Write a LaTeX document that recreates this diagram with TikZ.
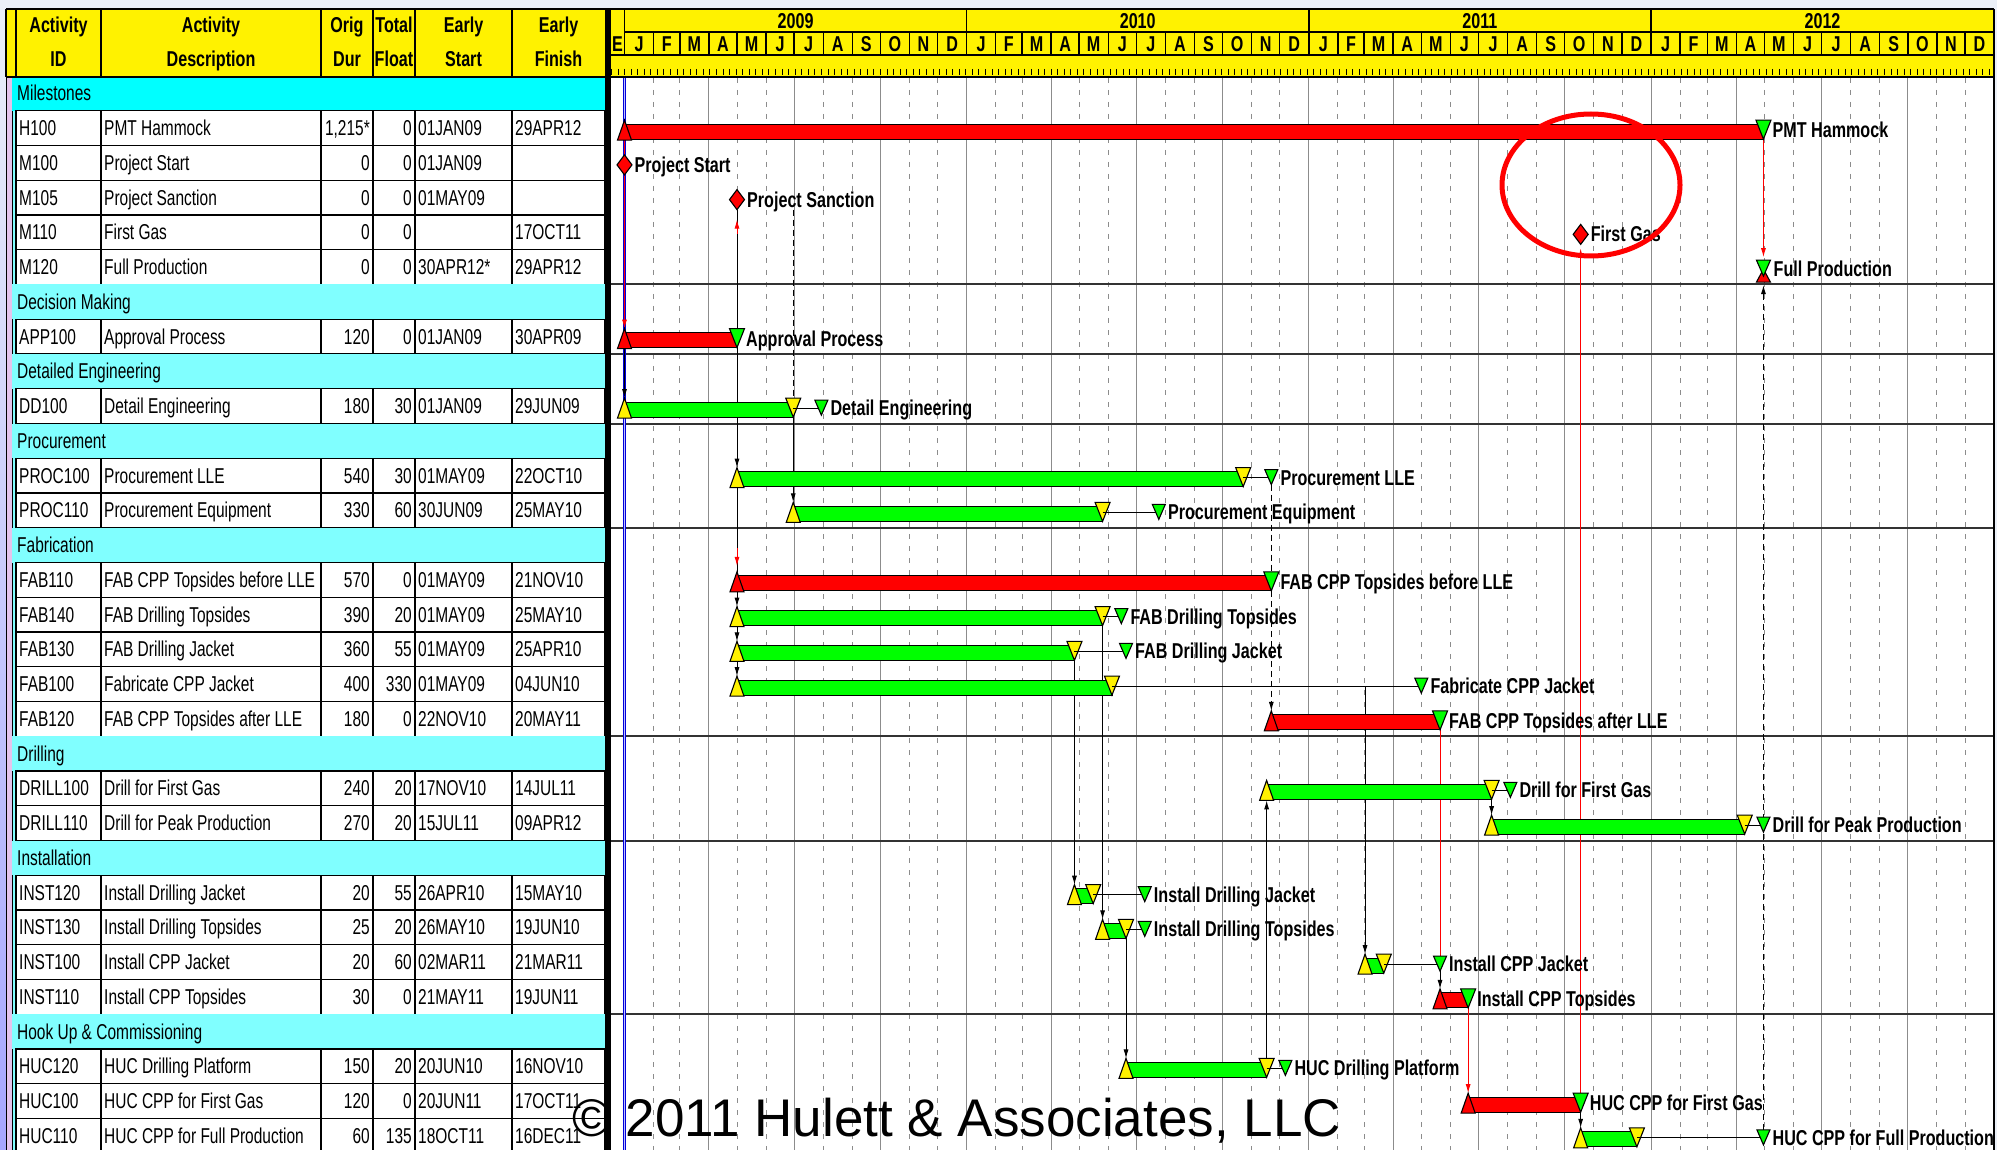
\documentclass[tikz,border=0pt]{standalone}
\usepackage{fontspec}
\setmainfont{Liberation Sans}
\newfontfamily\tabfont[FakeStretch=0.72]{Liberation Sans}
\newfontfamily\lblfont[FakeStretch=0.75]{Liberation Sans}
\usetikzlibrary{arrows.meta,calc}
\definecolor{bandcyan}{HTML}{80FFFF}
\definecolor{milecyan}{HTML}{00FFFF}
\definecolor{pagebg}{HTML}{EBF0F8}
\definecolor{stripbg}{HTML}{E4C4EC}
\definecolor{gridgray}{HTML}{8C8C8C}
\definecolor{sepgray}{HTML}{333333}
\pgfdeclarelayer{bars}
\pgfdeclarelayer{top}
\pgfsetlayers{main,bars,top}

\newcommand\TabRow[7]{%
  \pgfmathsetmacro\tRt{76+34.75*#1}%
  \pgfmathsetmacro\tRb{\tRt+34.75}%
  \pgfmathsetmacro\tRbl{\tRt+17.375+7.5}%
  \fill[white] (16,\tRt) rectangle (605,\tRb);
  \draw[cellline] (16,\tRt) rectangle (605,\tRb);
  \foreach \cx in {101,321,373,415,512}{\draw[cellline] (\cx,\tRt) -- (\cx,\tRb);}
  \node[tabtxt,anchor=base west] (tid#1) at (19,\tRbl) {#2};
  \node[tabtxt,anchor=base west] (tds#1) at (104,\tRbl) {#3};
  \node[tabtxt,anchor=base east] (tdu#1) at (370,\tRbl) {#4};
  \node[tabtxt,anchor=base east] (tfl#1) at (412,\tRbl) {#5};
  \node[tabtxt,anchor=base west] (tes#1) at (418,\tRbl) {#6};
  \node[tabtxt,anchor=base west] (tef#1) at (515,\tRbl) {#7};
}
\newcommand\TabBand[3]{%
  \pgfmathsetmacro\tRt{76+34.75*#1}%
  \pgfmathsetmacro\tRb{\tRt+34.75}%
  \pgfmathsetmacro\tRbl{\tRt+17.375+7.5}%
  \fill[#3] (12,\tRt) rectangle (605,\tRb);
  \node[tabtxt,anchor=base west] (band#1) at (17,\tRbl) {#2};
  \draw[sepline] (611,\tRt) -- (1994,\tRt);
}
% name,row,startday,endday,latefinishday,critical,label
\newcommand\GBar[7]{%
  \pgfmathsetmacro\gC{93.375+34.75*#2}%
  \pgfmathsetmacro\gS{624.5+0.9374*#3}%
  \pgfmathsetmacro\gE{624.5+0.9374*#4}%
  \pgfmathsetmacro\gL{624.5+0.9374*#5}%
  \ifnum#6=1 \def\gBF{red}\def\gSF{red}\def\gEF{green}\else\def\gBF{green}\def\gSF{yellow}\def\gEF{yellow}\fi
  \coordinate (#1-st) at ({\gS},{\gC-8});
  \coordinate (#1-sb) at ({\gS},{\gC+12});
  \coordinate (#1-et) at ({\gE},{\gC-8});
  \coordinate (#1-eb) at ({\gE},{\gC+11});
  \coordinate (#1-c) at ({\gE},{\gC+2});
  \ifnum#6=1
    \coordinate (#1-lft) at ({\gE},{\gC-8});
    \coordinate (#1-lfb) at ({\gE},{\gC+11});
  \else
    \coordinate (#1-lft) at ({\gL},{\gC-6});
    \coordinate (#1-lfb) at ({\gL},{\gC+9});
  \fi
  \begin{pgfonlayer}{bars}
    \filldraw[barline, fill=\gBF] ({\gS},{\gC-4}) rectangle ({\gE},{\gC+11});
    \filldraw[barline, fill=\gSF] ({\gS},{\gC-8}) -- ({\gS+7},{\gC+12}) -- ({\gS-7},{\gC+12}) -- cycle;
    \filldraw[barline, fill=\gEF] ({\gE-7.5},{\gC-8}) -- ({\gE+7.5},{\gC-8}) -- ({\gE},{\gC+11}) -- cycle;
    \ifnum#6=1
      \node[lbl] (#1-lbl) at ({\gE+9},{\gC+9.5}) {#7};
    \else
      \draw[conn] (#1-c) -- ({\gL},{\gC+2});
      \filldraw[barline, fill=green] ({\gL-6.5},{\gC-6}) -- ({\gL+6.5},{\gC-6}) -- ({\gL},{\gC+9}) -- cycle;
      \node[lbl] (#1-lbl) at ({\gL+9},{\gC+9.5}) {#7};
    \fi
  \end{pgfonlayer}
}
% name,row,day,label
\newcommand\GMile[4]{%
  \pgfmathsetmacro\gC{93.375+34.75*#2}%
  \pgfmathsetmacro\gS{624.5+0.9374*#3}%
  \coordinate (#1-t) at ({\gS},{\gC-8});
  \coordinate (#1-b) at ({\gS},{\gC+12});
  \begin{pgfonlayer}{bars}
    \filldraw[barline, fill=red] ({\gS},{\gC-8}) -- ({\gS+7.5},{\gC+2}) -- ({\gS},{\gC+12}) -- ({\gS-7.5},{\gC+2}) -- cycle;
    \node[lbl] (#1-lbl) at ({\gS+10},{\gC+9.5}) {#4};
  \end{pgfonlayer}
}

\begin{document}
\begin{tikzpicture}[x=1pt,y=-1pt,
  cellline/.style={line width=1.4pt,draw=black},
  sepline/.style={line width=2pt,draw=sepgray},
  tabtxt/.style={font=\tabfont\fontsize{21.5}{23}\selectfont, inner sep=0pt},
  hdrtxt/.style={font=\lblfont\bfseries\fontsize{21.5}{23}\selectfont, inner sep=0pt},
  lbl/.style={font=\lblfont\bfseries\fontsize{21.5}{23}\selectfont, inner sep=0pt, anchor=base west},
  conn/.style={line width=0.9pt, draw=black},
  rconn/.style={line width=0.9pt, draw=red},
  cdash/.style={dash pattern=on 6pt off 4pt},
  arr/.style={-{Latex[length=9pt,width=5pt]}},
  barline/.style={line width=1.1pt, draw=black},
  gridsolid/.style={draw=gridgray, line width=0.8pt},
  griddashed/.style={draw=gridgray, line width=0.8pt, dash pattern=on 5pt off 7pt},
]
\useasboundingbox (0,0) rectangle (1997,1150);
% page background
\fill[pagebg] (0,0) rectangle (1997,1150);
\shade[top color=pagebg, bottom color=blue!35!white] (0,0) rectangle (6,1150);
% gantt area
\fill[white] (611,77) rectangle (1994,1150);
% month grid lines
\foreach \a [count=\m from 0] in {0,31,59,90,120,151,181,212,243,273,304,334,365,396,424,455,485,516,546,577,608,638,669,699,730,761,789,820,850,881,911,942,973,1003,1034,1064,1095,1126,1155,1186,1216,1247,1277,1308,1339,1369,1400,1430}{
  \pgfmathsetmacro\xa{624.5+0.9374*\a}
  \pgfmathtruncatemacro\q{mod(\m,3)}
  \ifnum\m>0
    \ifnum\q=0
      \draw[gridsolid] (\xa,78) -- (\xa,1150);
    \else
      \draw[griddashed] (\xa,78) -- (\xa,1150);
    \fi
  \fi
}
% table background and left strip
\fill[bandcyan] (12,77) rectangle (605,1150);
\fill[stripbg] (6,77) rectangle (12,1150);
\draw[line width=1pt] (6,77) -- (6,1150);
\draw[line width=1pt] (12,77) -- (12,1150);

\TabBand{0}{Milestones}{milecyan}
\TabRow{1}{H100}{PMT Hammock}{1,215*}{0}{01JAN09}{29APR12}
\TabRow{2}{M100}{Project Start}{0}{0}{01JAN09}{}
\TabRow{3}{M105}{Project Sanction}{0}{0}{01MAY09}{}
\TabRow{4}{M110}{First Gas}{0}{0}{}{17OCT11}
\TabRow{5}{M120}{Full Production}{0}{0}{30APR12*}{29APR12}
\TabBand{6}{Decision Making}{bandcyan}
\TabRow{7}{APP100}{Approval Process}{120}{0}{01JAN09}{30APR09}
\TabBand{8}{Detailed Engineering}{bandcyan}
\TabRow{9}{DD100}{Detail Engineering}{180}{30}{01JAN09}{29JUN09}
\TabBand{10}{Procurement}{bandcyan}
\TabRow{11}{PROC100}{Procurement LLE}{540}{30}{01MAY09}{22OCT10}
\TabRow{12}{PROC110}{Procurement Equipment}{330}{60}{30JUN09}{25MAY10}
\TabBand{13}{Fabrication}{bandcyan}
\TabRow{14}{FAB110}{FAB CPP Topsides before LLE}{570}{0}{01MAY09}{21NOV10}
\TabRow{15}{FAB140}{FAB Drilling Topsides}{390}{20}{01MAY09}{25MAY10}
\TabRow{16}{FAB130}{FAB Drilling Jacket}{360}{55}{01MAY09}{25APR10}
\TabRow{17}{FAB100}{Fabricate CPP Jacket}{400}{330}{01MAY09}{04JUN10}
\TabRow{18}{FAB120}{FAB CPP Topsides after LLE}{180}{0}{22NOV10}{20MAY11}
\TabBand{19}{Drilling}{bandcyan}
\TabRow{20}{DRILL100}{Drill for First Gas}{240}{20}{17NOV10}{14JUL11}
\TabRow{21}{DRILL110}{Drill for Peak Production}{270}{20}{15JUL11}{09APR12}
\TabBand{22}{Installation}{bandcyan}
\TabRow{23}{INST120}{Install Drilling Jacket}{20}{55}{26APR10}{15MAY10}
\TabRow{24}{INST130}{Install Drilling Topsides}{25}{20}{26MAY10}{19JUN10}
\TabRow{25}{INST100}{Install CPP Jacket}{20}{60}{02MAR11}{21MAR11}
\TabRow{26}{INST110}{Install CPP Topsides}{30}{0}{21MAY11}{19JUN11}
\TabBand{27}{Hook Up \& Commissioning}{bandcyan}
\TabRow{28}{HUC120}{HUC Drilling Platform}{150}{20}{20JUN10}{16NOV10}
\TabRow{29}{HUC100}{HUC CPP for First Gas}{120}{0}{20JUN11}{17OCT11}
\TabRow{30}{HUC110}{HUC CPP for Full Production}{60}{135}{18OCT11}{16DEC11}

% ---- table header
\fill[yellow] (6,9) rectangle (605,77);
\foreach \cx in {6,16,101,321,373,415,512}{\draw[cellline] (\cx,9) -- (\cx,77);}
\node[hdrtxt,anchor=base] (h1a) at (58.5,32.5) {Activity};
\node[hdrtxt,anchor=base] (h1b) at (58.5,66.5) {ID};
\node[hdrtxt,anchor=base] (h2a) at (211,32.5) {Activity};
\node[hdrtxt,anchor=base] (h2b) at (211,66.5) {Description};
\node[hdrtxt,anchor=base] (h3a) at (347,32.5) {Orig};
\node[hdrtxt,anchor=base] (h3b) at (347,66.5) {Dur};
\node[hdrtxt,anchor=base] (h4a) at (394,32.5) {Total};
\node[hdrtxt,anchor=base] (h4b) at (394,66.5) {Float};
\node[hdrtxt,anchor=base] (h5a) at (463.5,32.5) {Early};
\node[hdrtxt,anchor=base] (h5b) at (463.5,66.5) {Start};
\node[hdrtxt,anchor=base] (h6a) at (558.5,32.5) {Early};
\node[hdrtxt,anchor=base] (h6b) at (558.5,66.5) {Finish};

% ---- gantt header
\fill[yellow] (611,9) rectangle (1994,77);
\draw[cellline] (624.5,32) -- (1994,32);
\draw[cellline] (611,55) -- (1994,55);
\draw[cellline] (624.5,9) -- (624.5,55);
\node[hdrtxt,anchor=base west] (mE) at (612,51.5) {E};
\foreach \yd/\yl in {365/2010,730/2011,1095/2012}{
  \pgfmathsetmacro\xa{624.5+0.9374*\yd}
  \draw[cellline] (\xa,9) -- (\xa,32);
}
\node[hdrtxt,anchor=base] (y2009) at ({624.5+0.9374*182.5},28.5) {2009};
\node[hdrtxt,anchor=base] (y2010) at ({624.5+0.9374*547.5},28.5) {2010};
\node[hdrtxt,anchor=base] (y2011) at ({624.5+0.9374*912.5},28.5) {2011};
\node[hdrtxt,anchor=base] (y2012) at ({624.5+0.9374*1278},28.5) {2012};
\foreach \a/\b/\L [count=\m from 0] in {0/31/J,31/59/F,59/90/M,90/120/A,120/151/M,151/181/J,181/212/J,212/243/A,243/273/S,273/304/O,304/334/N,334/365/D,365/396/J,396/424/F,424/455/M,455/485/A,485/516/M,516/546/J,546/577/J,577/608/A,608/638/S,638/669/O,669/699/N,699/730/D,730/761/J,761/789/F,789/820/M,820/850/A,850/881/M,881/911/J,911/942/J,942/973/A,973/1003/S,1003/1034/O,1034/1064/N,1064/1095/D,1095/1126/J,1126/1155/F,1155/1186/M,1186/1216/A,1216/1247/M,1247/1277/J,1277/1308/J,1308/1339/A,1339/1369/S,1369/1400/O,1400/1430/N,1430/1461/D}{
  \pgfmathsetmacro\xa{624.5+0.9374*\a}
  \pgfmathsetmacro\xb{624.5+0.9374*\b}
  \node[hdrtxt,anchor=base] (mon\m) at ({(\xa+\xb)/2},51.5) {\L};
  \draw[cellline] (\xb,32) -- (\xb,55);
}
\foreach \k in {-2,...,208}{
  \draw[line width=0.8pt] ({624.5+6.5618*\k},69) -- ({624.5+6.5618*\k},75);
}
\draw[line width=2pt] (6,77) -- (1994,77);

% frame
\fill[black] (605,9) rectangle (611,1150);
\draw[line width=2.5pt] (6,9) -- (1994,9);
\draw[line width=1.5pt] (1994,9) -- (1994,1150);

% ---- bars and milestones
\GBar{H100}{1}{0}{1215}{0}{1}{PMT Hammock}
\GMile{M100}{2}{0}{Project Start}
\GMile{M105}{3}{120}{Project Sanction}
\GMile{M110}{4}{1020}{First Gas}
% Full production finish milestone
\pgfmathsetmacro\gC{93.375+34.75*5}
\pgfmathsetmacro\gS{624.5+0.9374*1215}
\coordinate (M120-t) at ({\gS},{\gC-7});
\coordinate (M120-b) at ({\gS},{\gC+15});
\begin{pgfonlayer}{bars}
  \filldraw[barline, fill=red] ({\gS-7},{\gC+15}) -- ({\gS+7},{\gC+15}) -- ({\gS},{\gC+2}) -- cycle;
  \filldraw[barline, fill=green] ({\gS-7},{\gC-7}) -- ({\gS+7},{\gC-7}) -- ({\gS},{\gC+9}) -- cycle;
  \node[lbl] (M120-lbl) at ({\gS+10},{\gC+9.5}) {Full Production};
\end{pgfonlayer}
\GBar{APP100}{7}{0}{120}{0}{1}{Approval Process}
\GBar{DD100}{9}{0}{180}{210}{0}{Detail Engineering}
\GBar{PROC100}{11}{120}{660}{690}{0}{Procurement LLE}
\GBar{PROC110}{12}{180}{510}{570}{0}{Procurement Equipment}
\GBar{FAB110}{14}{120}{690}{0}{1}{FAB CPP Topsides before LLE}
\GBar{FAB140}{15}{120}{510}{530}{0}{FAB Drilling Topsides}
\GBar{FAB130}{16}{120}{480}{535}{0}{FAB Drilling Jacket}
\GBar{FAB100}{17}{120}{520}{850}{0}{Fabricate CPP Jacket}
\GBar{FAB120}{18}{690}{870}{0}{1}{FAB CPP Topsides after LLE}
\GBar{DRILL100}{20}{685}{925}{945}{0}{Drill for First Gas}
\GBar{DRILL110}{21}{925}{1195}{1215}{0}{Drill for Peak Production}
\GBar{INST120}{23}{480}{500}{555}{0}{Install Drilling Jacket}
\GBar{INST130}{24}{510}{535}{555}{0}{Install Drilling Topsides}
\GBar{INST100}{25}{790}{810}{870}{0}{Install CPP Jacket}
\GBar{INST110}{26}{870}{900}{0}{1}{Install CPP Topsides}
\GBar{HUC120}{28}{535}{685}{705}{0}{HUC Drilling Platform}
\GBar{HUC100}{29}{900}{1020}{0}{1}{HUC CPP for First Gas}
\GBar{HUC110}{30}{1020}{1080}{1215}{0}{HUC CPP for Full Production}

% data date line
\coordinate (dd-top) at (624.5,78);
\coordinate (dd-bot) at (624.5,1150);
\draw[draw=blue!85!black, double=blue!25, double distance=1.2pt, line width=0.7pt] (dd-top) -- (dd-bot);

% ---- relationship connectors
\coordinate (SanctionLink) at (DD100-et |- M105-b);
\coordinate (FabJacketLink) at (INST100-st |- FAB100-c);
\draw[rconn] (H100-sb) -- (M100-t);
\draw[conn,arr] (M100-b) -- (DD100-st);
\draw[rconn,arr] (M100-b) -- (APP100-st);
\draw[conn] (APP100-et) -- (M105-b);
\draw[rconn,arr] ($(M105-b)+(0,24)$) -- ($(M105-b)+(0,10)$);
\draw[conn,arr] (APP100-eb) -- (PROC100-st);
\draw[conn] (PROC100-sb) -- (FAB110-st);
\draw[rconn,arr] ($(FAB110-st)+(0,-24)$) -- ($(FAB110-st)+(0,-6)$);
\draw[conn,arr] (FAB110-sb) -- (FAB140-st);
\draw[conn,arr] (FAB140-sb) -- (FAB130-st);
\draw[conn,arr] (FAB130-sb) -- (FAB100-st);
\draw[conn,cdash] (SanctionLink) -- (DD100-et);
\draw[conn,arr] (DD100-eb) -- (PROC110-st);
\draw[conn,cdash] (PROC100-lfb) -- (FAB110-et);
\draw[conn,cdash,arr] (FAB110-eb) -- (FAB120-st);
\draw[conn,arr] (FAB130-eb) -- (INST120-st);
\draw[conn,arr] (FAB140-eb) -- (INST130-st);
\draw[conn,arr] (INST130-eb) -- (HUC120-st);
\draw[conn,arr] (HUC120-et) -- (DRILL100-sb);
\draw[conn,arr] (FabJacketLink) -- (INST100-st);
\draw[rconn] (FAB120-eb) -- (INST100-lft);
\draw[conn,arr] (INST100-lfb) -- (INST110-st);
\draw[rconn,arr] (INST110-eb) -- (HUC100-st);
\draw[rconn,arr,shorten >=4pt] (HUC100-et) -- (M110-b);
\draw[conn,arr] (HUC100-eb) -- (HUC110-st);
\draw[conn,arr] (DRILL100-eb) -- (DRILL110-st);
\draw[rconn,arr,shorten >=3pt] (H100-eb) -- (M120-t);
\draw[conn,cdash,arr,shorten >=3pt] (HUC110-lft) -- (M120-b);

% ---- highlight and copyright
\begin{pgfonlayer}{top}
  \draw[red, line width=5pt] (1591,185) ellipse [x radius=89pt, y radius=71pt];
  \node[anchor=base west, inner sep=0pt, font=\fontsize{53}{60}\selectfont] (copy) at (572,1136) {© 2011 Hulett \& Associates, LLC};
\end{pgfonlayer}
\end{tikzpicture}
\end{document}
